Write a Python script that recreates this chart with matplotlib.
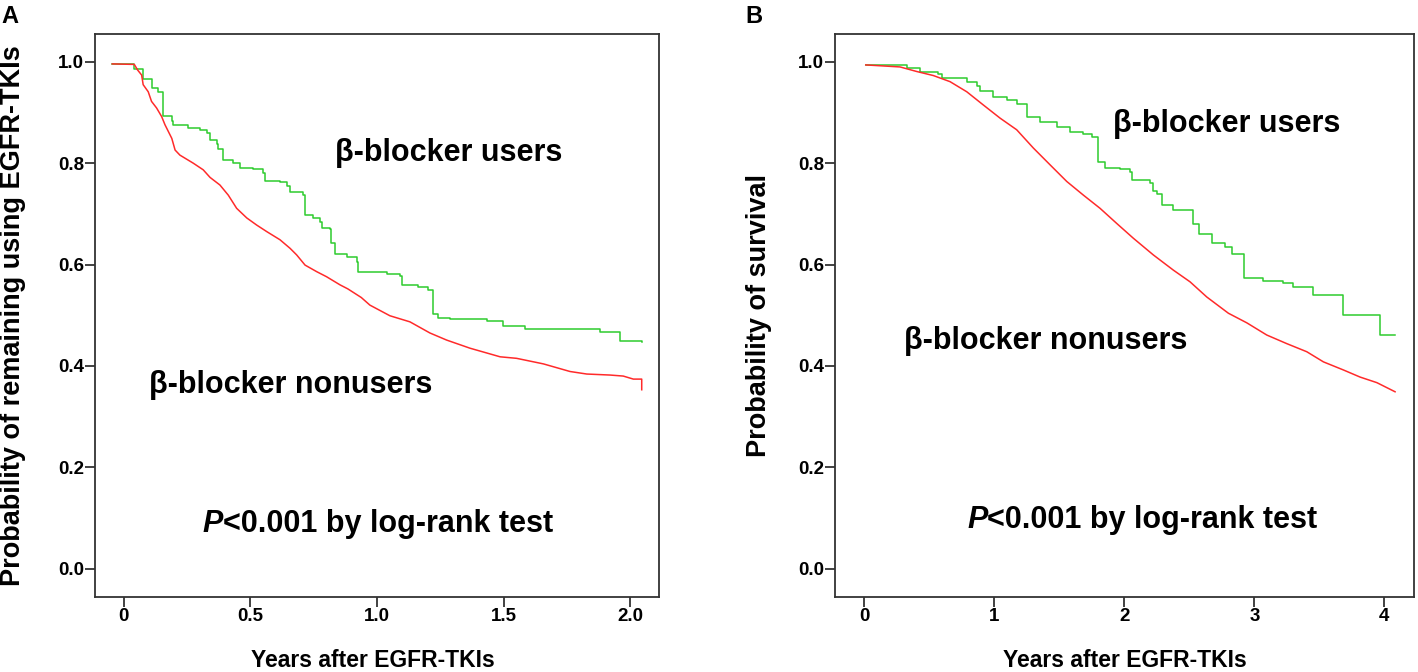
import matplotlib
matplotlib.use("Agg")
import matplotlib.pyplot as plt

plt.rcParams["font.family"] = ["Liberation Sans", "DejaVu Sans"]
plt.rcParams["font.weight"] = "bold"

GREEN = "#2ecc2e"
RED = "#ff2a2a"

# Panel A: remaining on EGFR-TKIs (years)
a_users_x = [-0.045, 0.042, 0.075, 0.110, 0.135, 0.154, 0.190, 0.196, 0.255, 0.301,
             0.328, 0.341, 0.367, 0.373, 0.393, 0.433, 0.459, 0.512, 0.551, 0.558,
             0.617, 0.643, 0.657, 0.709, 0.716, 0.749, 0.775, 0.782, 0.814, 0.818,
             0.834, 0.880, 0.920, 0.926, 1.038, 1.091, 1.097, 1.163, 1.200, 1.222,
             1.242, 1.288, 1.433, 1.499, 1.584, 1.880, 1.959, 2.045]
a_users_y = [0.996, 0.985, 0.966, 0.948, 0.940, 0.893, 0.884, 0.876, 0.870, 0.866,
             0.859, 0.846, 0.838, 0.828, 0.807, 0.800, 0.790, 0.788, 0.780, 0.764,
             0.762, 0.756, 0.744, 0.738, 0.698, 0.692, 0.684, 0.673, 0.671, 0.642,
             0.621, 0.615, 0.606, 0.586, 0.582, 0.578, 0.559, 0.555, 0.549, 0.503,
             0.494, 0.492, 0.489, 0.479, 0.473, 0.467, 0.450, 0.448]

a_non_x = [-0.045, 0.042, 0.055, 0.071, 0.077, 0.097, 0.110, 0.130, 0.150, 0.163,
           0.190, 0.203, 0.222, 0.275, 0.314, 0.341, 0.380, 0.413, 0.446, 0.486,
           0.525, 0.565, 0.617, 0.657, 0.683, 0.716, 0.762, 0.801, 0.854, 0.885,
           0.938, 0.972, 1.051, 1.130, 1.209, 1.275, 1.367, 1.486, 1.551, 1.657,
           1.762, 1.828, 1.920, 1.972, 2.012, 2.045, 2.045]
a_non_y = [0.996, 0.995, 0.984, 0.974, 0.955, 0.941, 0.922, 0.909, 0.892, 0.876,
           0.849, 0.826, 0.816, 0.800, 0.787, 0.772, 0.757, 0.737, 0.711, 0.692,
           0.678, 0.665, 0.649, 0.632, 0.619, 0.599, 0.586, 0.576, 0.560, 0.552,
           0.535, 0.520, 0.499, 0.487, 0.465, 0.451, 0.435, 0.418, 0.415, 0.404,
           0.389, 0.384, 0.382, 0.380, 0.374, 0.374, 0.353]

# Panel B: overall survival (years)
b_users_x = [0.011, 0.326, 0.428, 0.569, 0.595, 0.788, 0.865, 0.890, 0.992, 1.095,
             1.172, 1.249, 1.352, 1.480, 1.582, 1.685, 1.750, 1.800, 1.852, 1.967,
             2.044, 2.057, 2.198, 2.221, 2.250, 2.288, 2.377, 2.531, 2.577, 2.672,
             2.775, 2.826, 2.923, 3.069, 3.223, 3.300, 3.454, 3.685, 3.967, 4.082]
b_users_y = [0.994, 0.988, 0.980, 0.976, 0.969, 0.961, 0.953, 0.943, 0.931, 0.925,
             0.917, 0.892, 0.882, 0.872, 0.861, 0.857, 0.851, 0.802, 0.791, 0.789,
             0.783, 0.767, 0.760, 0.745, 0.739, 0.718, 0.708, 0.681, 0.661, 0.643,
             0.634, 0.621, 0.573, 0.568, 0.563, 0.556, 0.540, 0.500, 0.461, 0.461]

b_non_x = [0.011, 0.275, 0.403, 0.531, 0.659, 0.788, 0.915, 1.044, 1.172, 1.300,
           1.428, 1.557, 1.685, 1.813, 1.942, 2.069, 2.223, 2.377, 2.505, 2.634,
           2.800, 2.942, 3.095, 3.249, 3.403, 3.531, 3.685, 3.813, 3.942, 4.082]
b_non_y = [0.994, 0.990, 0.981, 0.973, 0.961, 0.941, 0.915, 0.889, 0.866, 0.830,
           0.797, 0.764, 0.737, 0.711, 0.681, 0.652, 0.619, 0.589, 0.566, 0.536,
           0.504, 0.485, 0.461, 0.444, 0.428, 0.408, 0.392, 0.378, 0.367, 0.349]

a_xticks = [0, 0.5, 1.0, 1.5, 2.0]
a_xticklabels = ["0", "0.5", "1.0", "1.5", "2.0"]
b_xticks = [0, 1, 2, 3, 4]
b_xticklabels = ["0", "1", "2", "3", "4"]
yticks = [0.0, 0.2, 0.4, 0.6, 0.8, 1.0]
yticklabels = ["0.0", "0.2", "0.4", "0.6", "0.8", "1.0"]

XLABEL = "Years after EGFR-TKIs"
ANN = 22  # annotation font size


def style_axes(ax, xticks, xticklabels):
    ax.set_yticks(yticks)
    ax.set_yticklabels(yticklabels)
    ax.set_xticks(xticks)
    ax.set_xticklabels(xticklabels)
    ax.set_ylim(-0.056, 1.055)
    for s in ax.spines.values():
        s.set_color("#333333")
        s.set_linewidth(1.3)
    ax.tick_params(length=7, width=1.3, color="#333333", pad=1, labelsize=13.5)
    for lab in ax.get_xticklabels() + ax.get_yticklabels():
        lab.set_fontweight("bold")


def p_text(ax, x, y):
    t = ax.text(x, y, "P", fontsize=ANN, fontweight="bold", style="italic",
                va="center", ha="left")
    ax.annotate("<0.001 by log-rank test", xy=(1, 0), xycoords=t,
                fontsize=ANN, fontweight="bold", va="bottom", ha="left")


fig = plt.figure(figsize=(14.18, 6.72), dpi=100)

# --- Panel A ---
ax_a = fig.add_axes([0.0672, 0.1116, 0.3975, 0.8378])
ax_a.step(a_users_x, a_users_y, where="post", color=GREEN, lw=1.1)
ax_a.plot(a_non_x, a_non_y, color=RED, lw=1.1)
ax_a.set_xlim(-0.112, 2.113)
style_axes(ax_a, a_xticks, a_xticklabels)
ax_a.set_ylabel("Probability of remaining using EGFR-TKIs", fontsize=19.5,
                fontweight="bold", va="center")
ax_a.yaxis.set_label_coords(-0.146, 0.5)
ax_a.set_xlabel(XLABEL, fontsize=16.5, fontweight="bold", va="center")
ax_a.xaxis.set_label_coords(0.493, -0.112)
ax_a.text(0.834, 0.82, "β-blocker users", fontsize=ANN, fontweight="bold",
          va="center", ha="left")
ax_a.text(0.099, 0.3625, "β-blocker nonusers", fontsize=ANN, fontweight="bold",
          va="center", ha="left")
p_text(ax_a, 0.313, 0.0886)
fig.text(0.007, 0.9754, "A", fontsize=17, fontweight="bold", ha="center", va="center")

# --- Panel B ---
ax_b = fig.add_axes([0.5889, 0.1116, 0.4085, 0.8378])
ax_b.step(b_users_x, b_users_y, where="post", color=GREEN, lw=1.1)
ax_b.plot(b_non_x, b_non_y, color=RED, lw=1.1)
ax_b.set_xlim(-0.225, 4.23)
style_axes(ax_b, b_xticks, b_xticklabels)
ax_b.set_ylabel("Probability of survival", fontsize=19.5, fontweight="bold", va="center")
ax_b.yaxis.set_label_coords(-0.1305, 0.5)
ax_b.set_xlabel(XLABEL, fontsize=16.5, fontweight="bold", va="center")
ax_b.xaxis.set_label_coords(0.5, -0.112)
ax_b.text(1.913, 0.8775, "β-blocker users", fontsize=ANN, fontweight="bold",
          va="center", ha="left")
ax_b.text(0.305, 0.449, "β-blocker nonusers", fontsize=ANN, fontweight="bold",
          va="center", ha="left")
p_text(ax_b, 0.79, 0.0954)
fig.text(0.532, 0.9757, "B", fontsize=17, fontweight="bold", ha="center", va="center")

fig.savefig("out.png", dpi=100, facecolor="white")
